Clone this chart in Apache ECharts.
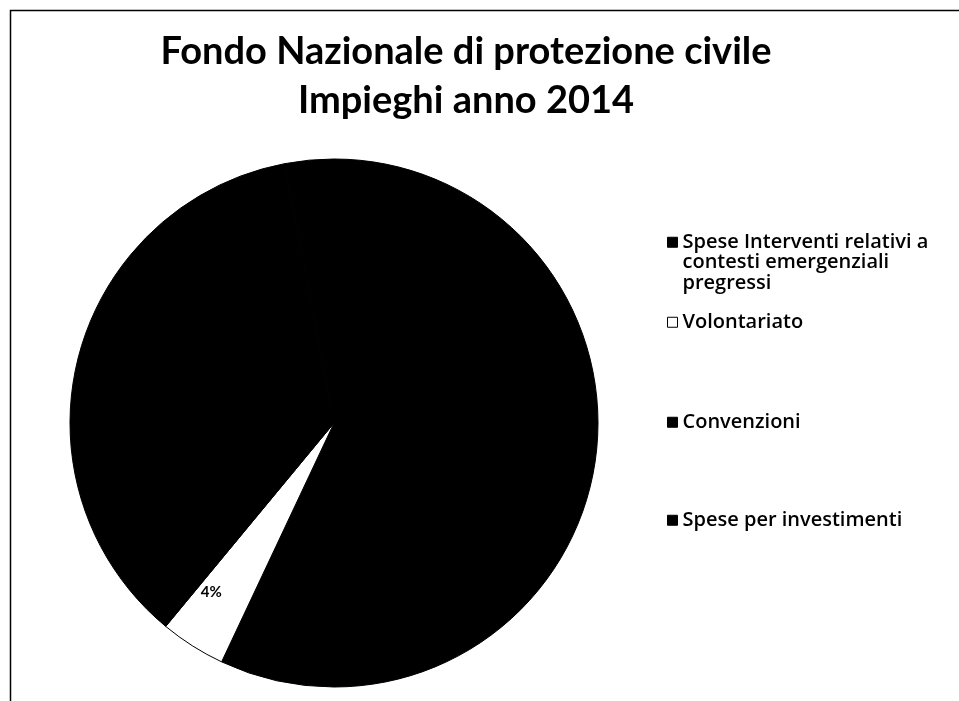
<!DOCTYPE html>
<html><head><meta charset="utf-8">
<script src="https://cdn.jsdelivr.net/npm/echarts@6/dist/echarts.min.js"></script>
<style>html,body{margin:0;padding:0;background:#fff}#c{width:959px;height:701px}</style>
</head><body><div id="c"></div>
<script>
const titleLines = ['Fondo Nazionale di protezione civile', 'Impieghi anno 2014'];
const categories = ['Spese Interventi relativi a contesti emergenziali pregressi', 'Volontariato', 'Convenzioni', 'Spese per investimenti'];
const legendLabels = ['Spese Interventi relativi a\ncontesti emergenziali\npregressi', 'Volontariato', 'Convenzioni', 'Spese per investimenti'];
const values = [57, 4, 36, 3];
const sliceColors = ['#000000', '#ffffff', '#000000', '#000000'];
const legendTops = [191, 312, 412, 510];

const chart = echarts.init(document.getElementById('c'), null, {renderer: 'canvas'});
const TFONT = 'Lato, "Open Sans", sans-serif';
const LFONT = '"Open Sans", Lato, sans-serif';

const legends = categories.map((name, i) => ({
  data: [name],
  left: 667,
  top: legendTops[i],
  padding: 0,
  orient: 'vertical',
  itemWidth: 10,
  itemHeight: 10,
  icon: 'rect',
  selectedMode: false,
  itemStyle: {borderColor: '#000', borderWidth: 1},
  textStyle: {fontFamily: LFONT, fontSize: 20, fontWeight: 600, color: '#000', lineHeight: 20.5},
  formatter: () => (i === 0 ? '\n\n' : '') + legendLabels[i]
}));

chart.setOption({
  animation: false,
  backgroundColor: '#fff',
  title: {
    text: titleLines.join('\n'),
    left: 461, textAlign: 'center',
    top: 22,
    textStyle: {fontFamily: TFONT, fontWeight: 'bold', fontSize: 38, lineHeight: 49, color: '#000'}
  },
  legend: legends,
  graphic: [{
    type: 'rect', shape: {x: 10.5, y: 10.5, width: 1000, height: 800},
    style: {fill: 'none', stroke: '#000', lineWidth: 1.5}, silent: true
  }],
  series: [{
    type: 'pie',
    center: [334, 423],
    radius: 264,
    startAngle: 90,
    clockwise: true,
    avoidLabelOverlap: false,
    data: categories.map((name, i) => ({
      name, value: values[i],
      itemStyle: {color: sliceColors[i], borderColor: '#000', borderWidth: 1},
      label: {show: i === 1}
    })),
    label: {
      position: 'outside',
      alignTo: 'none',
      formatter: p => Math.round(p.percent) + '%',
      fontFamily: TFONT, fontWeight: 'bold', fontSize: 15, color: '#000'
    },
    labelLine: {show: false, length: -64, length2: 0},
    emphasis: {disabled: true}
  }]
});
</script></body></html>
